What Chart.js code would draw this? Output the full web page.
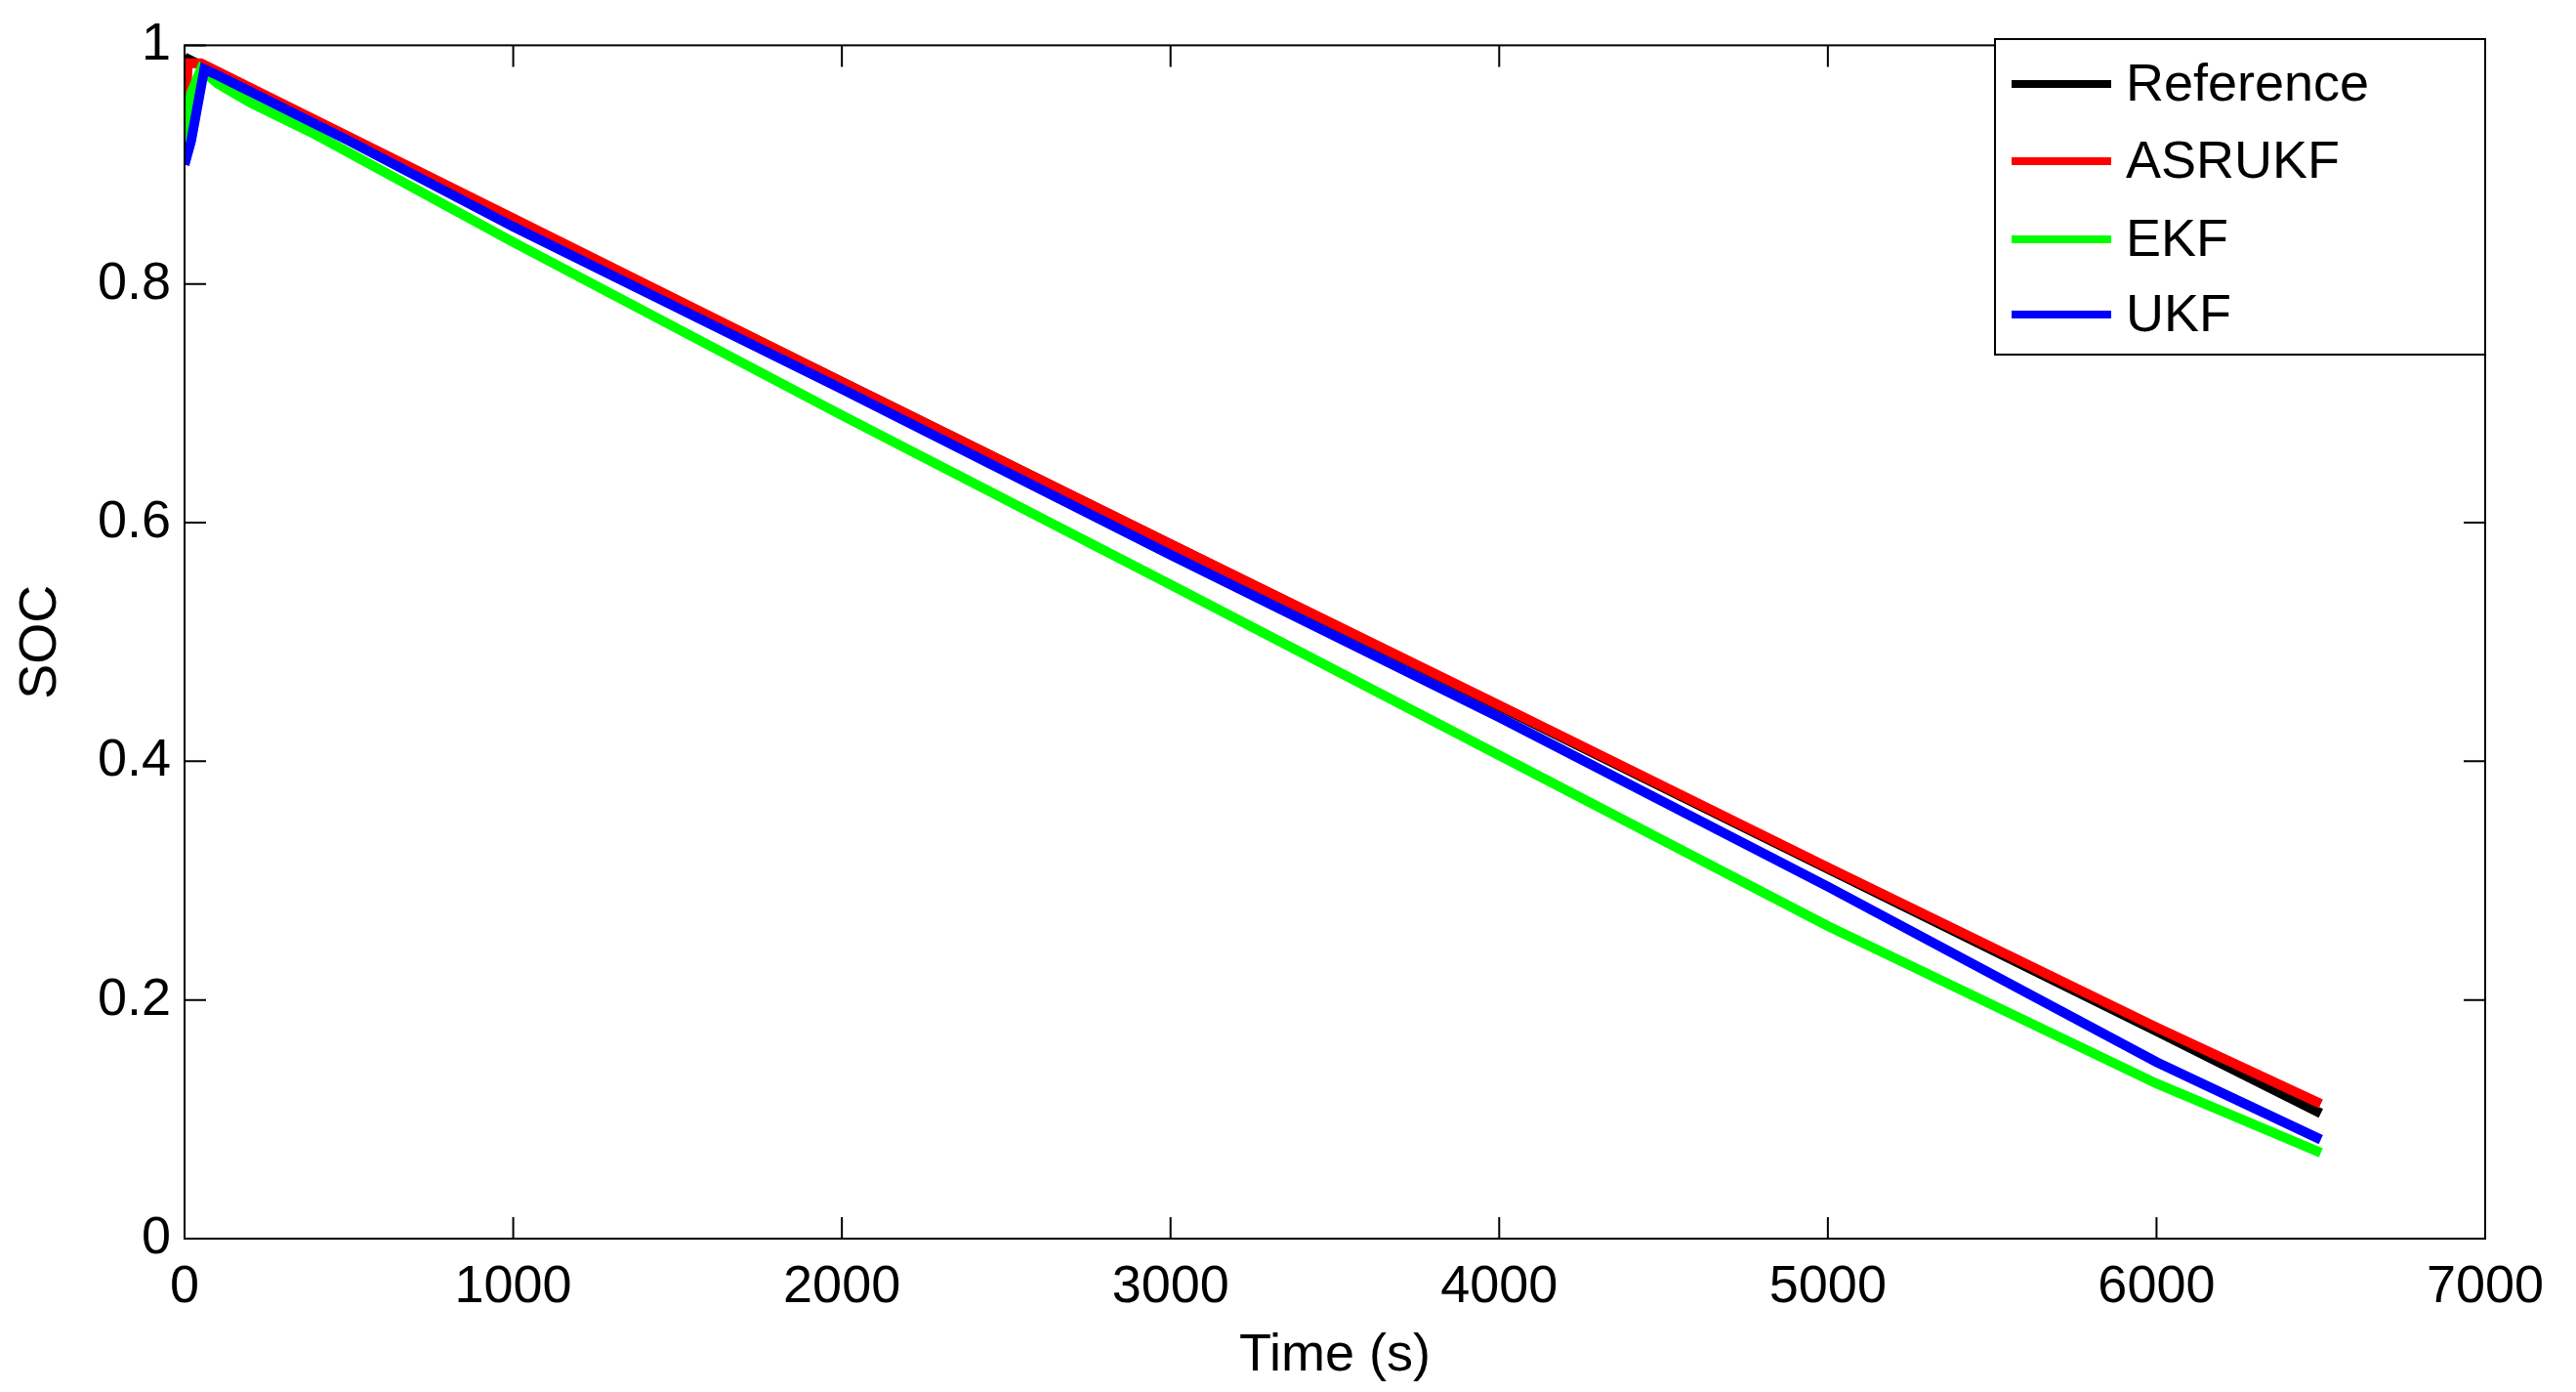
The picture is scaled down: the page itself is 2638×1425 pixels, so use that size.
<!DOCTYPE html>
<html><head><meta charset="utf-8">
<script src="https://cdn.jsdelivr.net/npm/chart.js@4/dist/chart.umd.min.js"></script>
<style>html,body{margin:0;padding:0;background:#fff}#c{display:block}</style>
</head><body>
<canvas id="c" width="2638" height="1425"></canvas>
<script>
const seriesNames = ['Reference','ASRUKF','EKF','UKF'];
const seriesColors = ['#000000','#ff0000','#00ff00','#0000ff'];
const refT = [0, 6000, 6500];
const refV = [0.99, 0.174, 0.105];
const asrT = [0, 10, 50, 1000, 2000, 3000, 4000, 5000, 6000, 6500];
const asrV = [0.93, 0.985, 0.985, 0.855, 0.718, 0.582, 0.447, 0.311, 0.177, 0.113];
const ekfT = [0, 20, 50, 100, 200, 400, 1000, 2000, 3000, 4000, 5000, 6000, 6500];
const ekfV = [0.92, 0.96, 0.98, 0.968, 0.952, 0.925, 0.835, 0.69, 0.548, 0.405, 0.262, 0.13, 0.072];
const ukfT = [0, 20, 60, 100, 500, 1000, 2000, 3000, 4000, 5000, 6000, 6500];
const ukfV = [0.90, 0.92, 0.98, 0.975, 0.92, 0.848, 0.712, 0.573, 0.437, 0.295, 0.148, 0.083];
const xTicks = [0,1000,2000,3000,4000,5000,6000,7000];
const yTicks = [0,0.2,0.4,0.6,0.8,1];

const pts = (t,v)=>t.map((x,i)=>({x:x,y:v[i]}));
const allData = [pts(refT,refV),pts(asrT,asrV),pts(ekfT,ekfV),pts(ukfT,ukfV)];
const FONT = 'Liberation Sans, Arial, sans-serif';

const frame = {
  id:'frame',
  afterDatasetsDraw(ch){
    const c=ch.ctx, a=ch.chartArea;
    c.save();
    c.strokeStyle='#000'; c.lineWidth=2;
    c.strokeRect(a.left,a.top,a.right-a.left,a.bottom-a.top);
    const xs=ch.scales.x, ys=ch.scales.y, L=22;
    c.beginPath();
    xTicks.forEach(v=>{const p=xs.getPixelForValue(v);c.moveTo(p,a.bottom);c.lineTo(p,a.bottom-L);c.moveTo(p,a.top);c.lineTo(p,a.top+L);});
    yTicks.forEach(v=>{const p=ys.getPixelForValue(v);c.moveTo(a.left,p);c.lineTo(a.left+L,p);c.moveTo(a.right,p);c.lineTo(a.right-L,p);});
    c.stroke();
    const lx=2043, ly=40, lw=a.right-2043, lh=323;
    c.fillStyle='#fff'; c.fillRect(lx,ly,lw,lh);
    c.lineWidth=2; c.strokeRect(lx,ly,lw,lh);
    c.font='54px '+FONT; c.textBaseline='middle'; c.fillStyle='#000';
    const rows=[86,165,245,322];
    seriesNames.forEach((n,i)=>{
      c.strokeStyle=seriesColors[i]; c.lineWidth=8;
      c.beginPath(); c.moveTo(2060,rows[i]); c.lineTo(2162,rows[i]); c.stroke();
      c.fillText(n,2177,rows[i]+2);
    });
    c.restore();
  }
};

new Chart(document.getElementById('c'),{
  type:'line',
  data:{datasets:allData.map((d,i)=>({label:seriesNames[i],data:d,borderColor:seriesColors[i],backgroundColor:seriesColors[i],borderWidth:10,pointRadius:0,tension:0,fill:false,order:4-i}))},
  options:{
    responsive:false,animation:false,
    layout:{padding:{top:40,right:93,left:0,bottom:0}},
    plugins:{legend:{display:false},tooltip:{enabled:false}},
    scales:{
      x:{type:'linear',min:0,max:7000,
        afterBuildTicks:s=>{s.ticks=xTicks.map(v=>({value:v}));},
        afterFit:s=>{s.height=157;},
        grid:{display:false,drawTicks:false},border:{display:false},
        ticks:{font:{size:54,family:FONT},color:'#000',padding:18,maxRotation:0,callback:v=>String(v)},
        title:{display:true,text:'Time (s)',font:{size:54,family:FONT},color:'#000',padding:{top:-6}}},
      y:{type:'linear',min:0,max:1,
        afterBuildTicks:s=>{s.ticks=yTicks.map(v=>({value:v}));},
        afterFit:s=>{s.width=189;},
        grid:{display:false,drawTicks:false},border:{display:false},
        ticks:{font:{size:54,family:FONT},color:'#000',padding:14,callback:v=>String(v)},
        title:{display:true,text:'SOC',font:{size:54,family:FONT},color:'#000',padding:{top:10,bottom:4}}}
    }
  },
  plugins:[frame]
});
</script>
</body></html>
